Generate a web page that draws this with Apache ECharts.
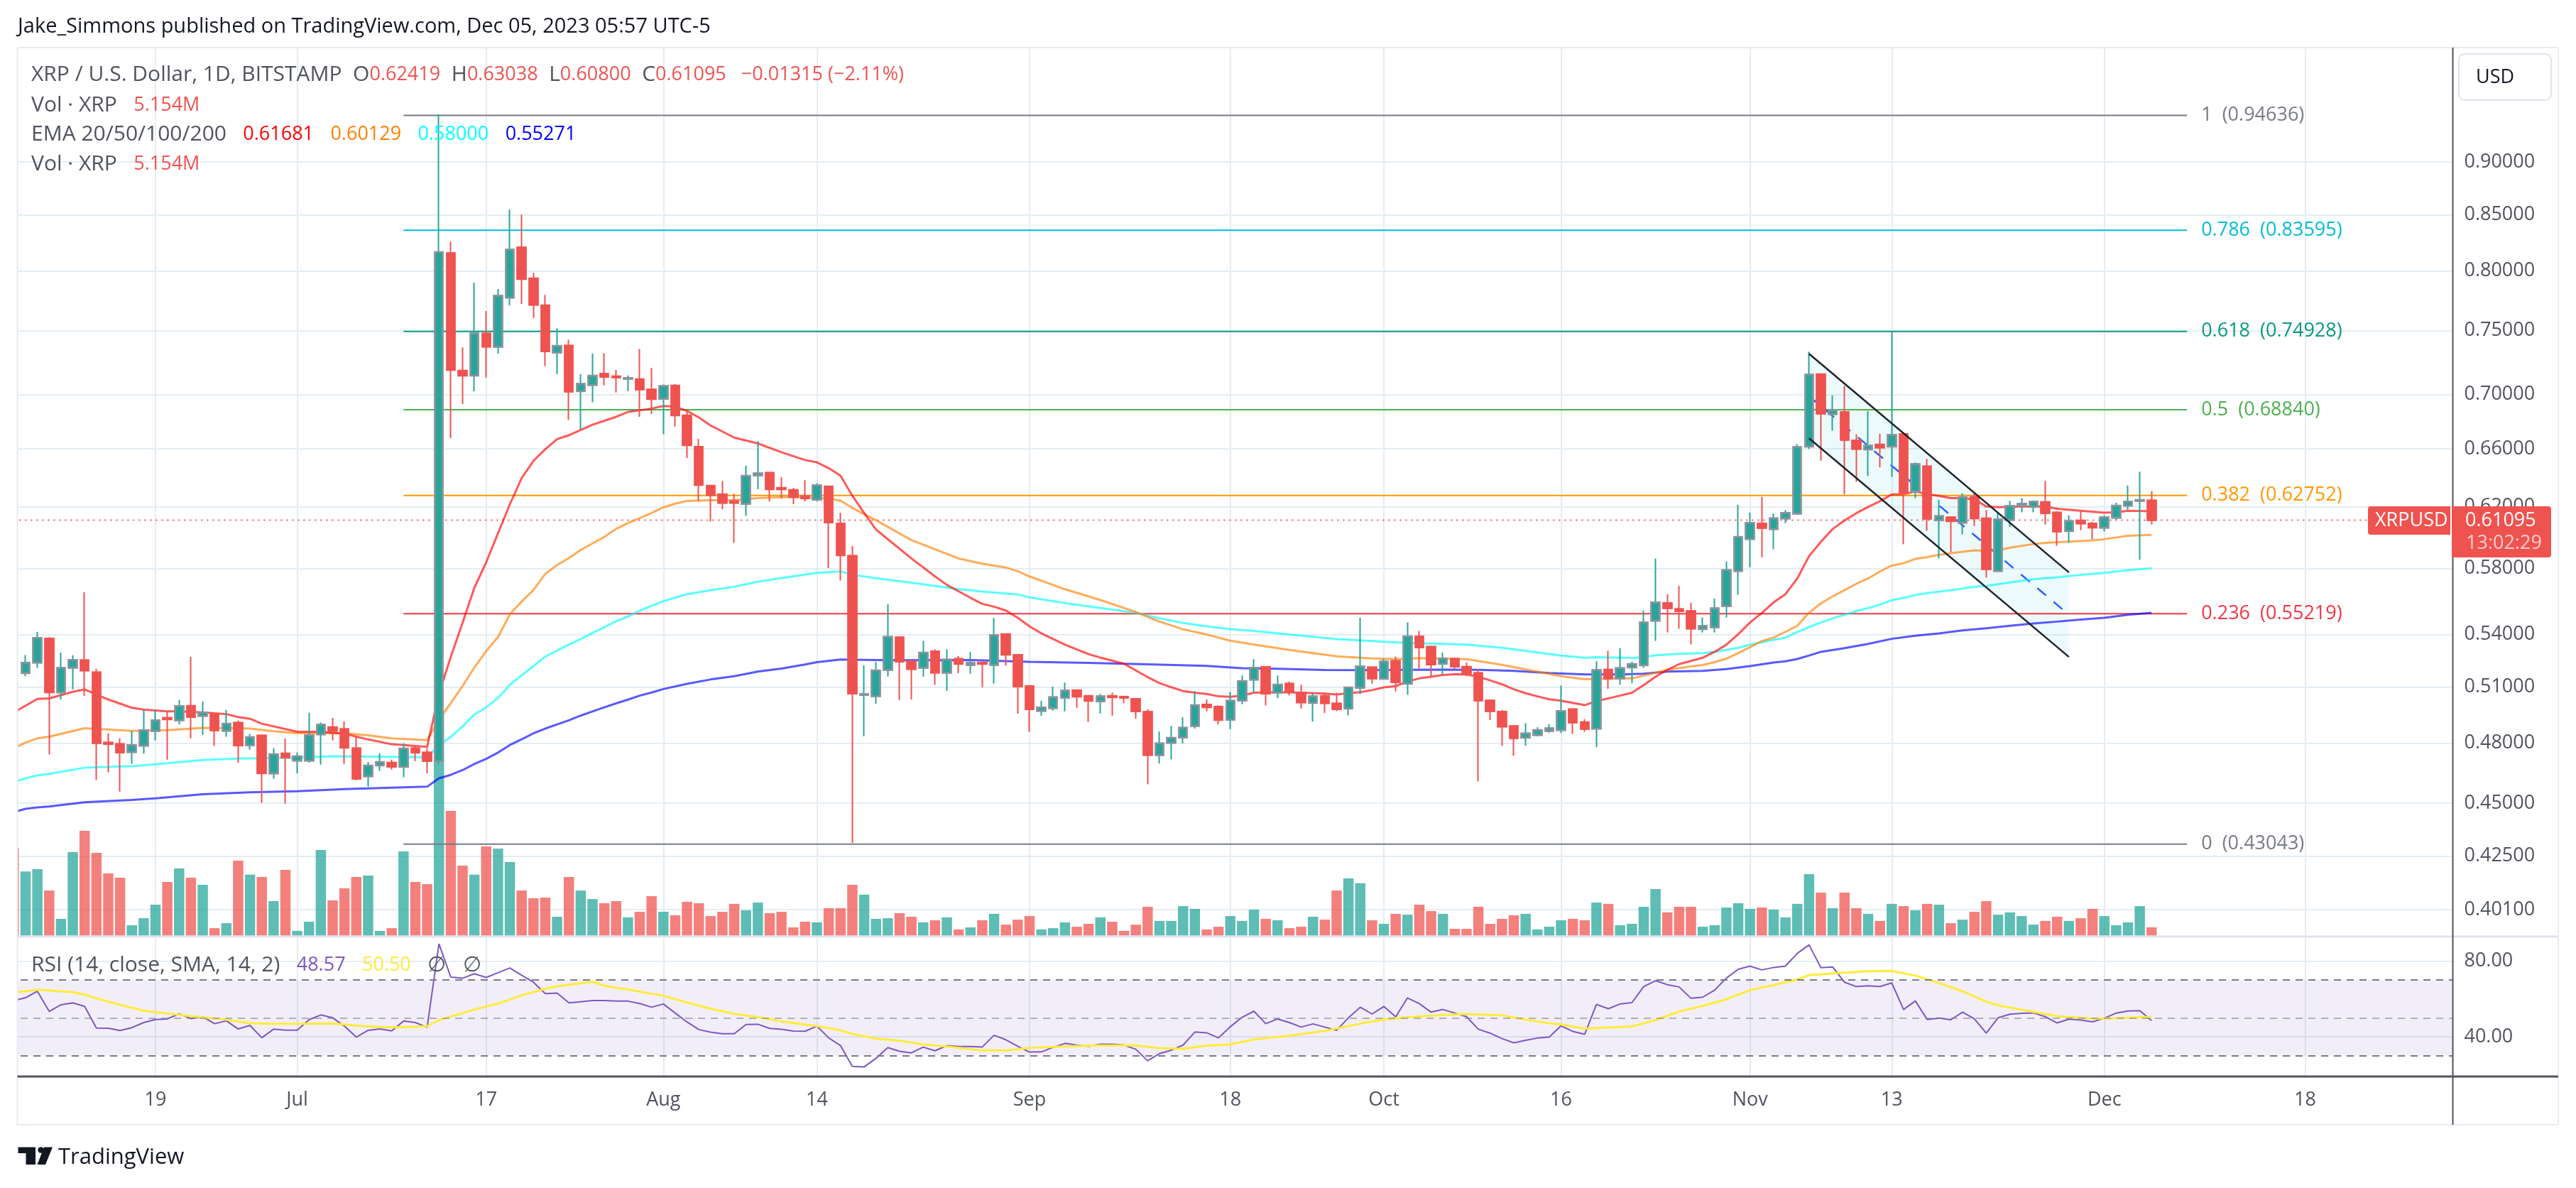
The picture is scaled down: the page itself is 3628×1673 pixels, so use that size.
<!DOCTYPE html>
<html>
<head>
<meta charset="utf-8">
<title>XRP / U.S. Dollar</title>
<script src="https://cdn.jsdelivr.net/npm/echarts@6/dist/echarts.min.js"></script>
<style>
  html, body { margin: 0; padding: 0; background: #fff; }
  #chart { width: 3628px; height: 1673px; }
</style>
</head>
<body>
<div id="chart"></div>
<script>
// candles, first slot (Jun 7) is only visible as the clipped volume sliver
var opens = [null,
  .5178,.5237,.5376,.5071,.5208,.5251,.5183,.4804,.4796,.4754,.4787,.4864,.4934,.4920,.4998,.4944,.4953,.4865,.4908,.4790,
  .4841,.4646,.4748,.4711,.4711,.4846,.4885,.4874,.4774,.4632,.4686,.4701,.4679,.4774,.4752,.4708,.8155,.7181,.7143,.7475,
  .7368,.7771,.8205,.7936,.7707,.7324,.7379,.7023,.7071,.7158,.7138,.7118,.7116,.7037,.6966,.7066,.6843,.6614,.6341,.6283,
  .6236,.6218,.6413,.6431,.6327,.6313,.6270,.6246,.6337,.6088,.5878,.5057,.5050,.5196,.5383,.5244,.5208,.5302,.5180,.5259,
  .5223,.5237,.5224,.5401,.5281,.5106,.4971,.4986,.5042,.5084,.5052,.5022,.5052,.5048,.5036,.4966,.4739,.4802,.4830,.4890,
  .5005,.4994,.4923,.5026,.5141,.5213,.5069,.5120,.5071,.5014,.5052,.5011,.4983,.5096,.5211,.5146,.5247,.5119,.5388,.5328,
  .5230,.5259,.5214,.5179,.5027,.4967,.4890,.4829,.4843,.4864,.4869,.4980,.4911,.4876,.5198,.5148,.5210,.5222,.5480,.5586,
  .5550,.5538,.5431,.5441,.5567,.5782,.5986,.6088,.6050,.6120,.6152,.6615,.7154,.6852,.6868,.6660,.6595,.6630,.6615,.6706,
  .6301,.6476,.6109,.6129,.6092,.6265,.6122,.5782,.6111,.6207,.6197,.6231,.6160,.6037,.6107,.6088,.6060,.6125,.6205,.6238,.62419];
var highs = [null,
  .5280,.5414,.5384,.5295,.5279,.5652,.5203,.4852,.4826,.4866,.4976,.4978,.4966,.5029,.5270,.5021,.4955,.4976,.4919,.4848,
  .4841,.4774,.4826,.4752,.4961,.4909,.4934,.4915,.4838,.4704,.4748,.4716,.4800,.4786,.4774,.9475,.8257,.7365,.7899,.7660,
  .7845,.8548,.8502,.7982,.7795,.7519,.7426,.7154,.7315,.7319,.7187,.7145,.7351,.7204,.7075,.7077,.6871,.6671,.6347,.6375,
  .6287,.6479,.6655,.6435,.6400,.6327,.6380,.6359,.6341,.6159,.5941,.5221,.5241,.5578,.5389,.5252,.5363,.5313,.5314,.5274,
  .5298,.5243,.5497,.5401,.5286,.5112,.5025,.5103,.5126,.5084,.5052,.5063,.5071,.5050,.5036,.4980,.4861,.4891,.4937,.5079,
  .5033,.5001,.5075,.5165,.5257,.5213,.5165,.5132,.5114,.5067,.5071,.5070,.5099,.5498,.5211,.5259,.5271,.5470,.5420,.5328,
  .5295,.5264,.5238,.5202,.5027,.4975,.4890,.4905,.4885,.4901,.5109,.4980,.4927,.5245,.5305,.5320,.5242,.5541,.5860,.5640,
  .5691,.5588,.5500,.5613,.5842,.6212,.6160,.6265,.6153,.6177,.6633,.7331,.7155,.6993,.7065,.6704,.6875,.6708,.7493,.6722,
  .6503,.6528,.6245,.6131,.6290,.6287,.6177,.6161,.6239,.6257,.6240,.6375,.6169,.6141,.6165,.6098,.6143,.6226,.6343,.6438,.63038];
var lows = [null,
  .5161,.5207,.4743,.5033,.5088,.5051,.4613,.4651,.4556,.4694,.4746,.4815,.4716,.4900,.4826,.4844,.4786,.4834,.4701,.4767,
  .4500,.4619,.4497,.4647,.4701,.4691,.4815,.4694,.4612,.4580,.4658,.4666,.4627,.4709,.4647,.4694,.6676,.6927,.7023,.7127,
  .7315,.7707,.7719,.7602,.7217,.7156,.6810,.6743,.6940,.7068,.7014,.7025,.6832,.6853,.6705,.6760,.6534,.6238,.6100,.6182,
  .5962,.6138,.6319,.6234,.6255,.6216,.6234,.6234,.5801,.5724,.4310,.4836,.5009,.5159,.5030,.5033,.5159,.5113,.5080,.5178,
  .5175,.5099,.5120,.5221,.4956,.4859,.4945,.4973,.4969,.4988,.4912,.4957,.4946,.5013,.4930,.4592,.4696,.4718,.4799,.4877,
  .4970,.4899,.4874,.5007,.5071,.5001,.5040,.5055,.4983,.4914,.4960,.4970,.4947,.5062,.5120,.5141,.5077,.5058,.5204,.5159,
  .5171,.5202,.5161,.4606,.4922,.4787,.4736,.4787,.4836,.4854,.4854,.4849,.4860,.4780,.5091,.5115,.5122,.5208,.5362,.5411,
  .5433,.5342,.5411,.5411,.5500,.5637,.5807,.5870,.5921,.6090,.6146,.6598,.6515,.6730,.6284,.6369,.6408,.6468,.6403,.5952,
  .6257,.6040,.5862,.5901,.6017,.6070,.5742,.5780,.6065,.6162,.6162,.6081,.5943,.5963,.6043,.5984,.6035,.6112,.6179,.5855,.60800];
var closes = [null,
  .5237,.5380,.5072,.5208,.5253,.5193,.4801,.4796,.4752,.4791,.4869,.4921,.4926,.4997,.4938,.4963,.4868,.4903,.4789,.4832,
  .4647,.4744,.4727,.4733,.4843,.4898,.4865,.4777,.4619,.4686,.4704,.4680,.4773,.4752,.4709,.8164,.7187,.7143,.7477,.7370,
  .7788,.8186,.7929,.7712,.7333,.7377,.7021,.7080,.7143,.7134,.7129,.7125,.7037,.6964,.7064,.6843,.6625,.6347,.6277,.6224,
  .6224,.6410,.6427,.6317,.6317,.6264,.6256,.6345,.6094,.5882,.5065,.5063,.5194,.5386,.5243,.5201,.5295,.5181,.5255,.5230,
  .5236,.5230,.5396,.5282,.5104,.4980,.4990,.5046,.5083,.5049,.5025,.5050,.5045,.5042,.4969,.4740,.4800,.4829,.4882,.5002,
  .4991,.4922,.5026,.5135,.5209,.5065,.5115,.5073,.5017,.5050,.5013,.4980,.5099,.5216,.5148,.5244,.5128,.5389,.5324,.5227,
  .5261,.5215,.5174,.5027,.4970,.4887,.4827,.4852,.4870,.4879,.4971,.4909,.4875,.5196,.5148,.5207,.5230,.5470,.5590,.5555,
  .5537,.5434,.5449,.5555,.5789,.6000,.6092,.6058,.6123,.6158,.6613,.7151,.6855,.6882,.6664,.6598,.6623,.6609,.6700,.6296,
  .6492,.6119,.6137,.6103,.6263,.6122,.5794,.6114,.6204,.6220,.6233,.6156,.6035,.6104,.6088,.6061,.6128,.6207,.6233,.6245,.61095];
// volume, millions of XRP
var volumes = [54.5,
  39.8,41.3,28.0,10.4,51.9,65.1,51.4,38.6,36.0,6.4,10.8,19.2,33.3,41.7,36.0,31.6,4.6,7.7,46.6,37.8,
  36.4,21.4,40.8,2.9,8.6,53.2,21.9,29.4,36.4,37.3,2.9,4.6,52.3,33.3,32.0,138,77.5,43.5,37.8,55.4,
  54.1,45.7,28.0,23.2,23.6,11.7,36.4,28.0,22.7,20.1,21.4,11.3,14.8,24.5,14.8,12.6,21.0,20.1,12.1,14.8,
  19.7,15.7,20.5,13.9,14.8,5.1,8.6,8.2,17.0,17.0,31.6,25.4,10.4,10.8,13.9,11.7,8.2,9.5,11.3,3.8,
  5.1,9.5,13.5,6.8,9.9,12.1,3.8,4.6,8.2,5.5,7.3,11.3,8.6,2.9,6.8,17.9,9.1,9.1,18.3,16.6,
  3.8,5.5,12.1,9.1,16.1,10.4,9.5,4.6,5.5,11.7,9.9,28.0,35.5,32.5,9.5,7.3,13.5,13.0,19.2,15.2,
  13.5,4.2,4.2,17.9,7.3,10.4,12.6,13.5,3.8,5.5,9.5,10.4,9.5,20.5,19.7,6.4,7.3,17.9,28.9,14.4,
  17.9,17.9,5.5,6.4,17.4,20.1,16.6,17.4,16.1,11.3,19.7,38.2,26.7,17.0,26.7,17.0,13.5,9.1,19.7,18.3,
  15.7,19.7,19.2,7.7,9.9,14.8,21.4,13.0,14.4,12.1,6.8,9.1,11.7,9.1,10.8,16.6,12.1,6.4,8.2,18.3,5.154];
var rsiValues = [59.0,
  60.6,64.0,53.4,56.9,57.9,56.0,44.6,44.5,43.3,44.8,47.5,49.1,49.4,52.1,49.6,50.6,46.9,48.4,44.1,46.0,
  39.5,44.0,43.5,43.5,49.0,51.5,50.0,45.6,39.8,43.4,44.1,43.1,48.3,47.5,45.0,89.1,71.5,70.9,73.3,71.3,
  73.8,76.3,72.5,68.8,62.8,63.1,57.9,58.5,59.1,59.1,58.8,58.8,57.5,55.6,57.3,52.5,47.8,43.8,42.4,41.6,
  41.6,46.5,46.6,44.4,43.9,43.0,42.9,45.6,39.4,35.3,24.3,24.1,28.6,34.3,32.3,31.5,34.5,32.6,35.3,34.8,
  34.8,34.6,40.8,38.4,35.0,31.9,32.0,34.4,36.5,35.6,34.9,36.1,36.1,35.6,33.4,27.3,31.1,32.9,35.6,42.5,
  42.1,39.4,45.3,50.3,53.5,46.9,49.4,47.5,45.1,46.8,45.1,43.4,50.0,55.6,52.0,56.0,50.5,60.5,57.5,53.0,
  54.4,52.5,50.6,44.0,41.9,39.0,36.8,38.1,39.3,39.8,45.8,42.8,41.3,57.1,54.8,57.3,58.0,66.5,69.6,67.5,
  66.3,60.3,60.9,64.6,71.0,75.6,77.3,75.3,76.6,77.3,84.0,88.5,76.5,76.8,68.8,66.5,66.9,66.5,68.4,54.4,
  58.9,49.1,49.8,49.0,53.0,49.4,41.9,50.0,51.9,52.4,52.6,50.6,47.3,49.3,48.8,47.9,49.8,52.5,53.6,53.8,48.57];

var ema20Days = [-1,1,2,4,5,7,9,10,12,13,15,17,18,19,20,23,25,27,29,31,34,35,36,37,38,39,40,41,42,43,44,45,46,48,50,51,53,54,55,56,57,58,60,62,64,66,67,68,69,70,71,72,75,77,78,79,80,81,82,83,84,85,86,88,90,91,93,95,96,97,98,99,100,101,102,103,104,106,108,110,111,112,113,114,115,116,117,118,119,120,121,122,123,124,125,126,127,128,129,130,132,133,135,136,137,138,139,140,141,142,143,144,145,146,147,148,149,150,151,152,153,154,155,156,157,158,159,160,161,162,163,164,165,166,167,168,169,170,171,172,174,176,177,178,180];
var ema20Values = [.4963,.5036,.5039,.5075,.5088,.5033,.4988,.4978,.4969,.4969,.4963,.4954,.4938,.4929,.4903,.4860,.4860,.4850,.4820,.4795,.4782,.5064,.5270,.5468,.568,.5838,.6024,.6215,.6394,.6514,.6597,.6669,.6697,.6774,.6832,.6868,.6893,.6912,.6908,.6876,.6828,.6768,.6680,.6638,.6575,.6520,.6504,.6463,.6410,.6273,.6157,.6048,.5862,.5749,.5697,.5657,.5618,.5581,.5564,.5541,.5498,.5447,.5406,.5340,.5286,.5266,.5231,.5156,.5123,.5100,.5079,.5070,.5063,.5050,.5048,.5054,.5070,.5073,.5070,.5065,.5060,.5067,.5073,.5084,.5099,.5106,.5132,.5149,.5158,.5168,.5172,.5171,.5158,.5138,.5116,.5089,.5067,.5050,.5034,.5026,.5002,.5024,.5054,.5070,.5112,.5158,.5197,.5229,.5247,.5265,.5299,.5340,.5401,.5470,.5527,.5590,.5640,.5736,.5877,.5968,.6052,.6107,.6156,.6198,.6236,.6282,.6284,.6302,.6284,.6273,.6257,.6257,.6249,.6201,.6196,.6198,.6201,.6201,.6201,.6185,.6172,.6159,.6162,.6172,.61681];
var ema50Days = [-1,0,1,2,5,9,12,15,18,19,21,23,27,29,31,34,35,36,37,38,39,40,41,42,43,44,45,46,47,48,49,50,51,52,53,54,55,56,58,60,62,64,66,68,69,70,72,75,77,79,81,83,84,85,88,91,94,96,98,100,102,104,107,111,114,116,118,122,125,130,132,136,138,139,141,142,143,144,145,146,147,148,149,150,151,152,153,154,155,156,157,158,159,160,161,162,164,165,166,167,168,170,171,173,175,176,178,180];
var ema50Values = [.4776,.4803,.4826,.4834,.4879,.4865,.4869,.4881,.4879,.4877,.4863,.4853,.4853,.4842,.4826,.4817,.4926,.5013,.5107,.5210,.5303,.5385,.5519,.5595,.5665,.5765,.5820,.5864,.5916,.5958,.6000,.6053,.6090,.6123,.6157,.6195,.6220,.6238,.6242,.6244,.6257,.6264,.6262,.6254,.6240,.6191,.6109,.5979,.5920,.5862,.5829,.5805,.5782,.5749,.5670,.5604,.5532,.5475,.5430,.5399,.5363,.5341,.5310,.5273,.5261,.5257,.5263,.5257,.5225,.5161,.5144,.5149,.5180,.5197,.5216,.5224,.5240,.5260,.5292,.5326,.5361,.5381,.5415,.5450,.5528,.5584,.5627,.5664,.5703,.5736,.5780,.5817,.5832,.5859,.5870,.5885,.5905,.5914,.5911,.5913,.5931,.5954,.5962,.5969,.5977,.5985,.6008,.60129];
var ema100Days = [-1,0,1,2,5,9,10,12,15,18,20,23,26,29,34,35,36,37,38,39,40,41,42,43,44,45,46,47,48,49,50,51,52,53,54,56,58,60,62,64,66,67,69,70,72,75,79,81,84,85,88,91,94,96,98,100,102,104,107,111,114,116,118,122,125,130,132,133,136,137,138,140,142,143,144,145,146,148,149,150,151,152,153,154,155,156,157,158,159,160,161,163,164,165,166,168,169,170,172,174,176,178,180];
var ema100Values = [.4603,.4622,.4636,.4644,.4675,.4683,.4687,.4698,.4714,.4721,.4723,.4726,.4733,.4731,.4728,.4791,.4833,.4889,.4952,.4990,.5041,.5113,.5166,.5218,.5272,.5306,.5340,.5373,.5408,.5442,.5477,.5505,.5540,.5569,.5597,.5640,.5664,.5686,.5716,.5739,.5760,.5771,.5780,.5760,.5738,.5711,.5670,.5656,.5638,.5620,.5586,.5556,.5527,.5495,.5467,.5447,.5431,.5420,.5399,.5372,.5361,.5353,.5349,.5341,.5322,.5277,.5265,.5268,.5264,.5269,.5279,.5288,.5292,.5299,.5310,.5322,.5340,.5368,.5381,.5413,.5443,.5470,.5495,.5515,.5538,.5556,.5577,.5603,.5617,.5635,.5646,.5664,.5675,.5685,.5690,.5712,.5722,.5732,.5744,.5759,.5771,.5788,.5800];
var ema200Days = [-1,0,1,2,5,9,11,15,19,23,27,34,35,36,37,38,39,40,41,42,43,44,45,46,47,48,49,50,51,52,53,54,56,58,60,62,64,66,67,69,70,73,80,85,90,95,100,103,106,110,113,117,120,123,126,129,132,135,137,139,142,144,146,148,149,150,151,152,154,156,158,160,162,164,166,168,170,172,174,176,178,180];
var ema200Values = [.4456,.4472,.4479,.4483,.4504,.4515,.4523,.4543,.4552,.4558,.4568,.4580,.4622,.4639,.4663,.4694,.4720,.4752,.4791,.4821,.4852,.4877,.4899,.4921,.4946,.4968,.4990,.5012,.5032,.5054,.5071,.5090,.5119,.5143,.5161,.5187,.5204,.5227,.5240,.5255,.5254,.5251,.5252,.5242,.5236,.5228,.5219,.5206,.5203,.5196,.5195,.5197,.5198,.5197,.5191,.5179,.5171,.5171,.5175,.5187,.5191,.5201,.5218,.5238,.5245,.5258,.5278,.5299,.5320,.5345,.5374,.5392,.5406,.5423,.5436,.5450,.5464,.5475,.5487,.5498,.5516,.55271];
var rsiSmaDays = [-1,0,1,4,5,6,8,10,12,14,17,19,21,23,26,28,30,32,34,35,37,38,40,42,44,45,48,49,51,54,56,58,60,62,64,67,69,70,72,74,76,78,81,83,85,88,91,94,96,98,100,102,104,107,110,113,115,117,120,122,125,127,129,130,132,136,138,140,142,144,146,148,150,151,154,156,158,160,162,164,166,167,170,172,175,177,180];
var rsiSmaValues = [63.5,64.0,64.8,63.5,62.3,60.3,56.9,53.8,52.3,50.9,49.0,47.1,46.8,46.8,47.0,45.9,45.1,45.1,45.6,48.8,52.5,54.4,57.5,61.9,65.3,66.6,69.1,66.9,64.9,61.6,58.1,54.8,52.1,50.4,48.1,45.6,43.4,41.5,39.0,37.9,36.0,34.8,32.8,32.8,34.1,34.9,35.4,35.4,34.0,33.6,35.3,36.0,38.6,40.6,43.1,46.9,49.1,50.3,51.5,52.0,51.3,49.1,47.1,46.5,44.3,45.4,48.8,53.3,56.3,59.8,64.6,67.3,70.3,72.5,73.8,74.6,74.8,72.3,68.4,64.0,58.5,56.6,53.1,50.9,49.6,49.8,50.5];

// fibonacci retracement
var fibRatios = ['1', '0.786', '0.618', '0.5', '0.382', '0.236', '0'];
var fibPrices = [0.94636, 0.83595, 0.74928, 0.68840, 0.62752, 0.55219, 0.43043];
var fibColors = ['#787b86', '#00bcd4', '#089981', '#4caf50', '#ff9800', '#f23645', '#787b86'];
var fibDays = [32, 183];

// falling channel
var channelDays = [151, 173];
var channelUpper = [0.7314, 0.5774];
var channelMiddle = [0.6986, 0.5516];
var channelLower = [0.6675, 0.5270];

var lastPrice = 0.61095;

// axis ticks
var priceTicks = [0.9, 0.85, 0.8, 0.75, 0.7, 0.66, 0.62, 0.58, 0.54, 0.51, 0.48, 0.45, 0.425, 0.401];
var rsiTicks = [40, 80];
var timeTickDates = ['2023-06-19', '2023-07-01', '2023-07-17', '2023-08-01', '2023-08-14', '2023-09-01', '2023-09-18', '2023-10-01', '2023-10-16', '2023-11-01', '2023-11-13', '2023-12-01', '2023-12-18'];
var timeTickTexts = ['19', 'Jul', '17', 'Aug', '14', 'Sep', '18', 'Oct', '16', 'Nov', '13', 'Dec', '18'];

var dates = [];
for (var d = 0; d < 207; d++) {
  dates.push(new Date(Date.UTC(2023, 5, 7 + d)).toISOString().slice(0, 10));
}

function pairs(days, values) {
  return days.map(function (day, k) { return [dates[day + 1], values[k]]; });
}

var FONT = '"Open Sans", sans-serif';
var SIZE = 27;
var WORD_SIZE = 30;
var GRID_COLOR = '#e4edf3';
var TEXT_COLOR = '#50535e';
var UP = '#26a69a';
var DOWN = '#ef5350';

function emaSeries(days, values, color) {
  return {
    type: 'line', xAxisIndex: 0, yAxisIndex: 0, data: pairs(days, values), z: 3,
    symbol: 'none', silent: true,
    lineStyle: { color: color, width: 3, opacity: 0.65 }
  };
}

function overlayLine(days, values, style, z) {
  return {
    type: 'line', xAxisIndex: 0, yAxisIndex: 0, data: pairs(days, values), z: z,
    symbol: 'none', silent: true, lineStyle: style
  };
}

var fibSeries = fibPrices.map(function (price, k) {
  return {
    type: 'line', xAxisIndex: 0, yAxisIndex: 0, z: 2, symbol: 'none', silent: true,
    data: pairs(fibDays, [price, price]),
    lineStyle: { color: fibColors[k], width: 2 },
    endLabel: {
      show: true, distance: 20, color: fibColors[k], fontFamily: FONT, fontSize: SIZE,
      formatter: fibRatios[k] + '  (' + price.toFixed(5) + ')'
    }
  };
});

var series = [
  {
    type: 'bar', xAxisIndex: 0, yAxisIndex: 1, z: 1, barWidth: 14.5, silent: true,
    data: volumes,
    itemStyle: {
      color: function (p) {
        var up = closes[p.dataIndex] !== null && closes[p.dataIndex] >= opens[p.dataIndex];
        return up ? 'rgba(38,166,154,0.74)' : 'rgba(239,83,80,0.74)';
      }
    }
  },
  {
    type: 'custom', xAxisIndex: 0, yAxisIndex: 0, z: 1, silent: true, clip: true,
    data: [[dates[channelDays[0] + 1], channelMiddle[0]]],
    renderItem: function (params, api) {
      var a = channelDays[0] + 1, b = channelDays[1] + 1;
      return {
        type: 'polygon',
        shape: { points: [api.coord([a, channelUpper[0]]), api.coord([b, channelUpper[1]]), api.coord([b, channelLower[1]]), api.coord([a, channelLower[0]])] },
        style: { fill: 'rgba(0,188,212,0.07)' }
      };
    }
  }
].concat(fibSeries, [
  {
    type: 'line', xAxisIndex: 0, yAxisIndex: 0, z: 2, symbol: 'none', silent: true,
    data: [[dates[0], lastPrice], [dates[206], lastPrice]],
    lineStyle: { color: DOWN, width: 2, type: [2, 6] }
  },
  overlayLine(channelDays, channelMiddle, { color: '#2962ff', width: 2.5, type: [16, 14] }, 2),
  emaSeries(ema200Days, ema200Values, '#0000ff'),
  emaSeries(ema100Days, ema100Values, '#00ffff'),
  emaSeries(ema50Days, ema50Values, '#ff7f00'),
  emaSeries(ema20Days, ema20Values, '#ff0000'),
  {
    // wicks
    type: 'candlestick', xAxisIndex: 0, yAxisIndex: 0, z: 4, barWidth: 12, silent: true,
    data: opens.map(function (o, i) {
      return o === null ? ['-', '-', '-', '-'] : [o, closes[i], lows[i], highs[i]];
    }),
    itemStyle: { color: UP, color0: DOWN, borderColor: UP, borderColor0: DOWN, borderWidth: 2 }
  },
  {
    // bodies, up candles have the grey outline
    type: 'candlestick', xAxisIndex: 0, yAxisIndex: 0, z: 5, barWidth: 12, silent: true,
    data: opens.map(function (o, i) {
      return o === null ? ['-', '-', '-', '-'] : [o, closes[i], Math.min(o, closes[i]), Math.max(o, closes[i])];
    }),
    itemStyle: { color: UP, color0: DOWN, borderColor: '#8f929d', borderColor0: DOWN, borderWidth: 2.5 }
  },
  overlayLine(channelDays, channelUpper, { color: '#1e222d', width: 2.5 }, 6),
  overlayLine(channelDays, channelLower, { color: '#1e222d', width: 2.5 }, 6),
  {
    type: 'line', xAxisIndex: 1, yAxisIndex: 2, z: 3, symbol: 'none', silent: true,
    data: rsiValues,
    lineStyle: { color: '#7e57c2', width: 2 },
    markArea: {
      silent: true,
      itemStyle: { color: 'rgba(126,87,194,0.1)' },
      data: [[{ yAxis: 70 }, { yAxis: 30 }]]
    },
    markLine: {
      silent: true, symbol: 'none', label: { show: false },
      data: [
        { yAxis: 70, lineStyle: { color: '#787b86', width: 2, type: [10, 8] } },
        { yAxis: 50, lineStyle: { color: 'rgba(120,123,134,0.55)', width: 2, type: [10, 8] } },
        { yAxis: 30, lineStyle: { color: '#787b86', width: 2, type: [10, 8] } }
      ]
    }
  },
  {
    type: 'line', xAxisIndex: 1, yAxisIndex: 2, z: 4, symbol: 'none', silent: true,
    data: rsiSmaDays.map(function (day, k) { return [dates[day + 1], rsiSmaValues[k]]; }),
    lineStyle: { color: '#ffeb3b', width: 3 }
  }
]);

function richStyle(color, size) {
  return { fill: color, fontFamily: FONT, fontSize: size };
}

var legendRich = {
  g: richStyle(TEXT_COLOR, WORD_SIZE),
  r: richStyle(DOWN, SIZE),
  e20: richStyle('#ff0000', SIZE),
  e50: richStyle('#ff7f00', SIZE),
  e100: richStyle('#00ffff', SIZE),
  e200: richStyle('#0000ff', SIZE),
  rsi: richStyle('#7e57c2', SIZE),
  sma: richStyle('#ffeb3b', SIZE)
};

function legendLine(y, text) {
  return {
    type: 'text', x: 44, y: y, z: 120, silent: true,
    style: { text: text, rich: legendRich, verticalAlign: 'middle', align: 'left' }
  };
}

function plainText(x, y, text, color, size, align) {
  return {
    type: 'text', x: x, y: y, z: 130, silent: true,
    style: { text: text, fill: color, fontFamily: FONT, fontSize: size, verticalAlign: 'middle', align: align || 'left' }
  };
}

function rule(x1, y1, x2, y2, color, width) {
  return {
    type: 'line', z: 110, silent: true,
    shape: { x1: x1, y1: y1, x2: x2, y2: y2 },
    style: { stroke: color, lineWidth: width }
  };
}

var graphics = [
  // hides the part of the panes left of the frame
  { type: 'rect', z: 100, silent: true, shape: { x: 0, y: 60, width: 24, height: 1530 }, style: { fill: '#fff' } },
  rule(24.5, 67, 3603, 67, '#e8ebf1', 2),
  rule(24.5, 67, 24.5, 1584, '#e8ebf1', 2),
  rule(3603, 67, 3603, 1584, '#e8ebf1', 2),
  rule(24.5, 1584, 3603, 1584, '#e8ebf1', 2),
  rule(24.5, 1319, 3603, 1319, '#e0e3eb', 3),
  rule(24.5, 1516, 3603, 1516, TEXT_COLOR, 3),
  rule(3454.5, 67, 3454.5, 1584, TEXT_COLOR, 2),

  plainText(25, 38, 'Jake_Simmons published on TradingView.com, Dec 05, 2023 05:57 UTC-5', '#131722', 29),
  legendLine(105, '{g|XRP / U.S. Dollar, 1D, BITSTAMP  O}{r|0.62419}{g|  H}{r|0.63038}{g|  L}{r|0.60800}{g|  C}{r|0.61095}{r|   \u22120.01315 (\u22122.11%)}'),
  legendLine(148, '{g|Vol \u00b7 XRP   }{r|5.154M}'),
  legendLine(189, '{g|EMA 20/50/100/200   }{e20|0.61681}{g|   }{e50|0.60129}{g|   }{e100|0.58000}{g|   }{e200|0.55271}'),
  legendLine(231, '{g|Vol \u00b7 XRP   }{r|5.154M}'),
  legendLine(1359, '{g|RSI (14, close, SMA, 14, 2)   }{rsi|48.57}{g|   }{sma|50.50}{g|   \u2205   \u2205}'),

  // currency button
  { type: 'rect', z: 120, silent: true, shape: { x: 3463, y: 76, width: 130, height: 65, r: 8 }, style: { fill: '#fff', stroke: '#e0e3eb', lineWidth: 2 } },
  plainText(3487, 109, 'USD', '#131722', SIZE),

  // last price tags
  { type: 'rect', z: 120, silent: true, shape: { x: 3335, y: 713, width: 116, height: 40, r: [4, 0, 0, 4] }, style: { fill: DOWN } },
  plainText(3345, 733, 'XRPUSD', '#fff', SIZE),
  { type: 'rect', z: 120, silent: true, shape: { x: 3453, y: 713, width: 140, height: 72, r: [0, 4, 4, 0] }, style: { fill: DOWN } },
  plainText(3472, 733, '0.61095', '#fff', SIZE),
  plainText(3473, 765, '13:02:29', 'rgba(255,255,255,0.7)', SIZE),

  // TradingView mark
  { type: 'polygon', z: 120, silent: true, shape: { points: [[25.5, 1615.5], [50, 1615.5], [50, 1640], [36.5, 1640], [36.5, 1624], [25.5, 1624]] }, style: { fill: '#131722' } },
  { type: 'circle', z: 120, silent: true, shape: { cx: 57.5, cy: 1619.5, r: 4.2 }, style: { fill: '#131722' } },
  { type: 'polygon', z: 120, silent: true, shape: { points: [[62, 1615.5], [74, 1615.5], [64, 1640], [52.5, 1640]] }, style: { fill: '#131722' } },
  plainText(82, 1630, 'TradingView', '#131722', 31)
];

var chart = echarts.init(document.getElementById('chart'), null, { renderer: 'canvas', width: 3628, height: 1673 });

function isoLabel(v) {
  var k = timeTickDates.indexOf(v);
  return k < 0 ? '' : timeTickTexts[k];
}

var timeAxisBase = {
  type: 'category', data: dates, boundaryGap: true,
  axisLine: { show: false },
  axisTick: { show: false, alignWithLabel: true, customValues: timeTickDates },
  splitLine: { show: true, alignWithLabel: true, lineStyle: { color: GRID_COLOR, width: 2 } }
};

chart.setOption({
  animation: false,
  backgroundColor: '#fff',
  grid: [
    { left: 11.065, top: 67, width: 3443.4, height: 1250.5, containLabel: false },
    { left: 11.065, top: 1320.5, width: 3443.4, height: 195.5, containLabel: false }
  ],
  xAxis: [
    Object.assign({}, timeAxisBase, { gridIndex: 0, axisLabel: { show: false, customValues: timeTickDates } }),
    Object.assign({}, timeAxisBase, {
      gridIndex: 1,
      axisLabel: {
        show: true, customValues: timeTickDates, margin: 20, hideOverlap: false,
        color: TEXT_COLOR, fontFamily: FONT, fontSize: SIZE, formatter: isoLabel
      }
    })
  ],
  yAxis: [
    {
      type: 'log', gridIndex: 0, position: 'right', logBase: 10, min: 0.38991, max: 1.01842,
      axisLine: { show: false },
      axisTick: { show: false, customValues: priceTicks },
      axisLabel: {
        show: true, customValues: priceTicks, margin: 16, color: TEXT_COLOR, fontFamily: FONT, fontSize: SIZE,
        formatter: function (v) { return Number(v).toFixed(5); }
      },
      splitLine: { show: true, lineStyle: { color: GRID_COLOR, width: 2 } }
    },
    {
      type: 'value', gridIndex: 0, position: 'left', min: 0, max: 552,
      axisLine: { show: false }, axisTick: { show: false }, axisLabel: { show: false }, splitLine: { show: false }
    },
    {
      type: 'value', gridIndex: 1, position: 'right', min: 19, max: 92.31,
      axisLine: { show: false },
      axisTick: { show: false, customValues: rsiTicks },
      axisLabel: {
        show: true, customValues: rsiTicks, margin: 16, color: TEXT_COLOR, fontFamily: FONT, fontSize: SIZE,
        formatter: function (v) { return Number(v).toFixed(2); }
      },
      splitLine: { show: true, lineStyle: { color: GRID_COLOR, width: 2 } }
    }
  ],
  series: series,
  graphic: { elements: graphics }
});
</script>
</body>
</html>
